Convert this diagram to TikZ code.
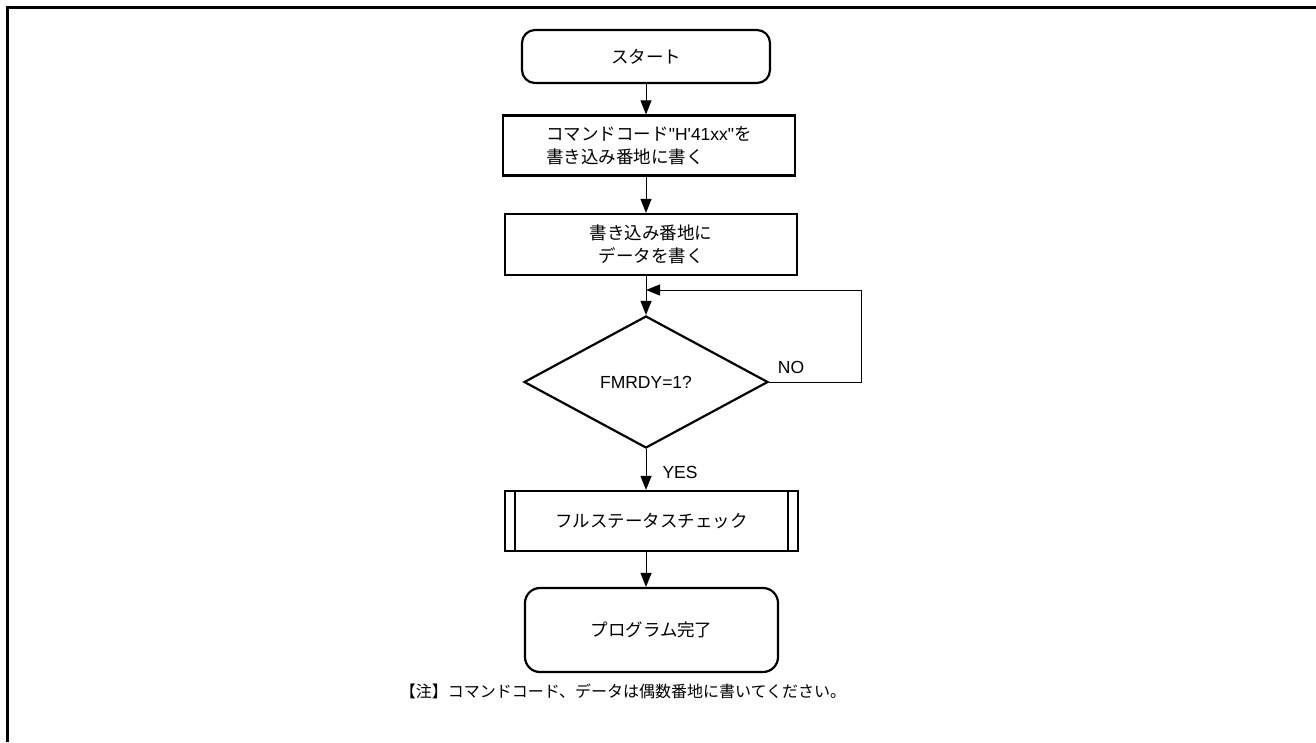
\documentclass[tikz,border=0pt]{standalone}
\usepackage{fontspec}
\setmainfont{Liberation Sans}
\newfontfamily\jp{Noto Sans CJK JP}
\usetikzlibrary{shapes.geometric,arrows.meta,positioning,calc}

\tikzset{
    term/.style={draw, line width=2.2pt, rounded corners=13pt, align=center, inner sep=0pt,
        font=\jp\fontsize{17.5}{23}\selectfont},
    proc/.style={draw, line width=2.2pt, align=center, inner sep=0pt,
        font=\jp\fontsize{17.5}{23}\selectfont},
    decis/.style={diamond, draw, line width=2.2pt, aspect=1.85, inner sep=0pt,
        minimum width=244pt, minimum height=132pt, font=\fontsize{17.5}{21}\selectfont},
    arr/.style={-{Triangle[length=14pt,width=11pt]}, line width=1pt},
    lbl/.style={font=\fontsize{17.5}{21}\selectfont, inner sep=0pt}
}

\begin{document}
\begin{tikzpicture}[x=1pt, y=-1pt]
    \useasboundingbox (0,0) rectangle (1316,742);

    % Frame
    \draw[line width=3pt] (7,742) -- (7,7) -- (1316,7);

    % Flow steps
    \node[term, minimum width=248pt, minimum height=53pt] (start) at (646,56.5) {スタート};
    \node[proc, align=left, minimum width=292pt, minimum height=60pt] (cmd) at (649,145.5)
        {コマンドコード{\rmfamily\textquotedbl H\textquotesingle 41xx\textquotedbl}を\\書き込み番地に書く};
    \node[proc, minimum width=292pt, minimum height=61pt] (data) at (651,244.5)
        {書き込み番地に\\データを書く};
    \node[decis] (rdy) at (646,382) {FMRDY=1?};
    \node[proc, minimum width=293pt, minimum height=60pt] (stat) at (651.5,521)
        {フルステータスチェック};
    \node[term, rounded corners=15pt, minimum width=253pt, minimum height=84pt] (fin) at (651.5,630)
        {プログラム完了};

    % Subroutine bars
    \draw[line width=1.5pt] ([xshift=11pt]stat.north west) -- ([xshift=11pt]stat.south west);
    \draw[line width=1.5pt] ([xshift=-11pt]stat.north east) -- ([xshift=-11pt]stat.south east);

    % Connectors
    \coordinate (join) at (646,290);
    \draw[arr] (start.south) -- (start |- cmd.north);
    \draw[arr] (start |- cmd.south) -- (start |- data.north);
    \draw[arr] (start |- data.south) -- (rdy.north);
    \draw[arr] (rdy.east) -- ++(92,0) |- (join);
    \draw[arr] (rdy.south) -- (start |- stat.north);
    \draw[arr] (start |- stat.south) -- (start |- fin.north);

    % Labels
    \node[lbl] (no) at (791,367) {NO};
    \node[lbl] (yes) at (680,472) {YES};
    \node[font=\jp\fontsize{16}{20}\selectfont] (note) at (623,691)
        {【注】コマンドコード、データは偶数番地に書いてください。};

\end{tikzpicture}
\end{document}
